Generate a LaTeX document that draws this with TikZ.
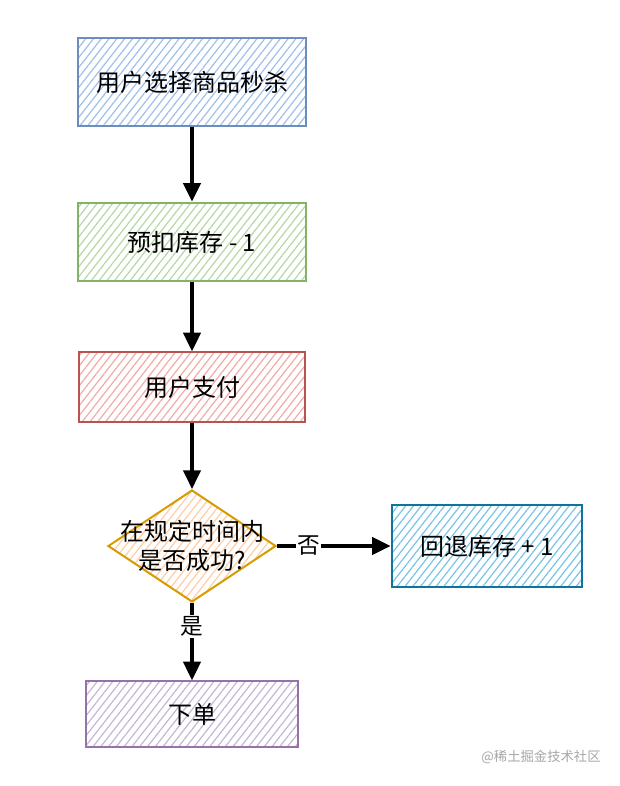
\documentclass[tikz,border=0pt]{standalone}
\usepackage{fontspec}
\setmainfont{Noto Sans CJK SC}
\usetikzlibrary{arrows.meta,shapes.geometric,patterns.meta}

\definecolor{blueline}{RGB}{108,142,191}
\definecolor{bluefill}{RGB}{160,190,235}
\definecolor{greenline}{RGB}{130,179,102}
\definecolor{greenfill}{RGB}{180,215,165}
\definecolor{redline}{RGB}{184,84,80}
\definecolor{redfill}{RGB}{242,170,165}
\definecolor{orangeline}{RGB}{215,155,0}
\definecolor{orangefill}{RGB}{255,205,165}
\definecolor{tealline}{RGB}{16,115,158}
\definecolor{tealfill}{RGB}{120,195,230}
\definecolor{purpleline}{RGB}{150,115,166}
\definecolor{purplefill}{RGB}{200,180,215}

\tikzset{every picture/.style={line width=0.75pt}}
\tikzset{
  hatch/.style={pattern={Lines[angle=52,distance=4.6pt,line width=0.9pt]},pattern color=#1},
  stepbox/.style 2 args={draw=#1,line width=1.5pt,hatch=#2,minimum width=171pt,minimum height=58pt,
    inner sep=0.75pt,font=\fontsize{18}{21}\selectfont},
  flow/.style={line width=2.4pt,-{Triangle[length=14pt,width=13pt]}},
  edgetext/.style={fill=white,inner sep=1pt,font=\fontsize{17}{20}\selectfont}
}

\begin{document}
\begin{tikzpicture}[x=0.75pt,y=0.75pt,yscale=-1,xscale=1]
\useasboundingbox (0,0) rectangle (620,786);

%Shape: Rectangle [id:start]
\node[stepbox={blueline}{bluefill},minimum height=66pt] (choose) at (192,82) {用户选择商品秒杀};
%Shape: Rectangle [id:stock]
\node[stepbox={greenline}{greenfill},minimum height=59pt] (deduct) at (192,242) {预扣库存 - 1};
%Shape: Rectangle [id:pay]
\node[stepbox={redline}{redfill},minimum width=169pt,minimum height=52pt] (pay) at (192,387) {用户支付};
%Shape: Diamond [id:check]
\node[diamond,draw=orangeline,line width=1.5pt,hatch=orangefill,minimum width=126pt,minimum height=84pt,inner sep=0pt] (check) at (192,546) {};
\node[align=center,font=\fontsize{18}{22}\selectfont,inner sep=0.75pt] (checktext) at (192,546) {在规定时间内\\是否成功?};
%Shape: Rectangle [id:rollback]
\node[stepbox={tealline}{tealfill},minimum width=143pt,minimum height=61pt] (rollback) at (487,546) {回退库存 + 1};
%Shape: Rectangle [id:order]
\node[stepbox={purpleline}{purplefill},minimum width=159pt,minimum height=49pt] (order) at (192,714) {下单};

%Straight Lines
\draw[flow] (choose) -- (deduct);
\draw[flow] (deduct) -- (pay);
\draw[flow] (pay) -- (check);
\draw[flow] (check.east) -- node[edgetext,pos=0.28] (no) {否} (rollback);
\draw[flow] (check.south) -- node[edgetext,pos=0.3] (yes) {是} (order);

% Text Node
\node[text=black!35,font=\fontsize{10}{12}\selectfont] (mark) at (541,757) {@稀土掘金技术社区};

\end{tikzpicture}
\end{document}
